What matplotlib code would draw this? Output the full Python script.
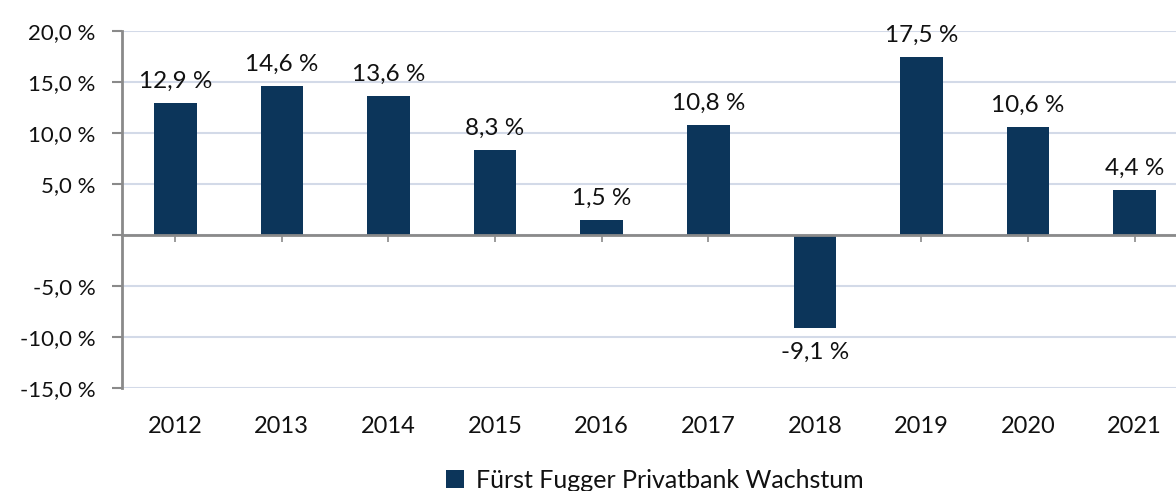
import matplotlib
matplotlib.use('Agg')
import matplotlib.pyplot as plt
from matplotlib.ticker import FuncFormatter

years = ['2012', '2013', '2014', '2015', '2016', '2017', '2018', '2019', '2020', '2021']
growth = [12.9, 14.6, 13.6, 8.3, 1.5, 10.8, -9.1, 17.5, 10.6, 4.4]
y_ticks = [-15, -10, -5, 0, 5, 10, 15, 20]
series_name = 'Fürst Fugger Privatbank Wachstum'

bar_color = '#0c355a'
grid_color = '#d3dae8'
axis_color = '#8a8a8a'
text_color = '#111111'

plt.rcParams['font.family'] = ['Lato', 'DejaVu Sans']


def pct(v, pos=None):
    return f"{v:.1f}".replace('.', ',') + ' %'


fig = plt.figure(figsize=(11.76, 4.91), dpi=100)
ax = fig.add_axes([0.1037, 0.2098, 0.9065, 0.727])

x = list(range(len(years)))
bars = ax.bar(x, growth, width=0.4, color=bar_color, zorder=3, label=series_name)

ax.set_xlim(-0.5, len(years) - 0.5)
ax.set_ylim(-15, 20)
ax.set_yticks(y_ticks)
ax.yaxis.set_major_formatter(FuncFormatter(lambda v, p: '' if v == 0 else pct(v)))
ax.grid(axis='y', color=grid_color, linewidth=1.5, zorder=0)
ax.set_axisbelow(True)

for s in ['top', 'right']:
    ax.spines[s].set_visible(False)
ax.spines['left'].set_color(axis_color)
ax.spines['left'].set_linewidth(2)
ax.spines['bottom'].set_position(('data', 0))
ax.spines['bottom'].set_color(axis_color)
ax.spines['bottom'].set_linewidth(2)
ax.spines['bottom'].set_zorder(4)

ax.tick_params(axis='y', length=7, width=1.5, color=axis_color, pad=12,
               labelsize=16, labelcolor=text_color)
ax.set_xticks(x)
ax.tick_params(axis='x', length=5, width=1.2, color=axis_color, labelbottom=False)

# year labels below the plot area
sec = ax.secondary_xaxis('bottom')
sec.set_xticks(x)
sec.set_xticklabels(years)
sec.tick_params(length=0, pad=20, labelsize=17, labelcolor=text_color)
sec.spines['bottom'].set_visible(False)

for xi, v in zip(x, growth):
    if v >= 0:
        ax.annotate(pct(v), (xi, v), xytext=(0, 8), textcoords='offset points',
                    ha='center', va='bottom', fontsize=17.5, color=text_color)
    else:
        ax.annotate(pct(v), (xi, v), xytext=(0, -10), textcoords='offset points',
                    ha='center', va='top', fontsize=17.5, color=text_color)

ax.legend(loc='center', bbox_to_anchor=(0.5, -0.258), frameon=False,
          handlelength=0.7, handleheight=0.7, handletextpad=0.5, fontsize=18,
          labelcolor=text_color, borderpad=0)

fig.savefig('out.png', dpi=100)
